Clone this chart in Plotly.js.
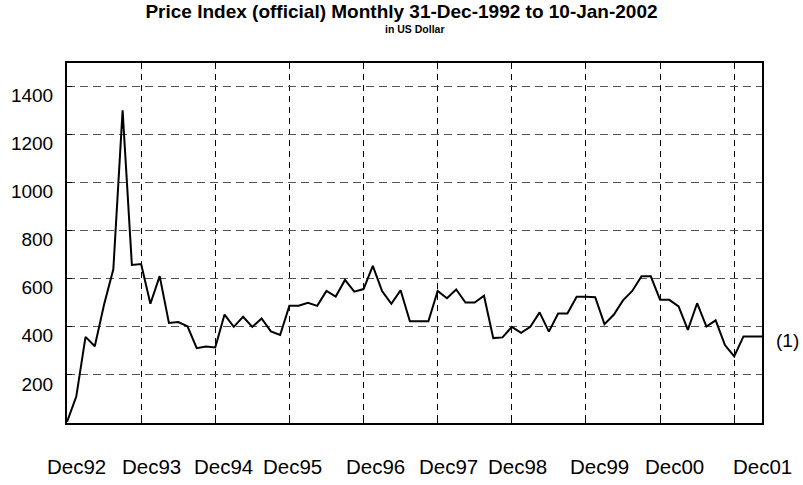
<!DOCTYPE html>
<html>
<head>
<meta charset="utf-8">
<script src="https://cdn.plot.ly/plotly-3.0.1.min.js"></script>
<style>
  html, body { margin: 0; padding: 0; background: #fff; }
  #chart { width: 803px; height: 485px; }
</style>
</head>
<body>
<div id="chart"></div>
<script>
// Observation index (one point per period)
const obsIndex = [
  0,1,2,3,4,5,6,7,8,9,10,11,12,13,14,15,16,17,18,19,
  20,21,22,23,24,25,26,27,28,29,30,31,32,33,34,35,36,37,38,39,
  40,41,42,43,44,45,46,47,48,49,50,51,52,53,54,55,56,57,58,59,
  60,61,62,63,64,65,66,67,68,69,70,71,72,73,74,75
];
// Price index values in US Dollar
const priceValues = [
  5,110,358,319,493,639,1300,657,661,496,611,416,420,402,311,318,314,451,400,442,
  400,435,381,366,488,488,500,487,549,526,595,546,557,653,549,496,552,423,423,423,
  549,519,555,501,501,529,353,356,400,375,400,460,380,455,455,525,525,523,411,450,
  510,549,610,610,512,512,485,387,498,401,427,324,277,360,360,360
];
// Vertical grid positions (every 8 observations)
const gridPositions = [0,8,16,24,32,40,48,56,64,72];
// Date tick labels and where they sit along the index axis
const dateLabels = ["Dec92","Dec93","Dec94","Dec95","Dec96","Dec97","Dec98","Dec99","Dec00","Dec01"];
const dateLabelPos = [1.0, 9.1, 16.9, 24.3, 33.3, 41.2, 48.6, 57.5, 65.6, 75.1];
// Y axis ticks
const yTickVals = [200,400,600,800,1000,1200,1400];
const yTickText = ["200","400","600","800","1000","1200","1400"];
const seriesTag = "(1)";

const X_RANGE = [0, 75];
const FONT = "Liberation Sans, Arial, sans-serif";

const trace = {
  type: "scatter",
  mode: "lines",
  x: obsIndex,
  y: priceValues,
  line: { color: "#000000", width: 2 },
  hoverinfo: "skip",
  showlegend: false
};

const annotations = dateLabels.map((t, i) => ({
  text: t,
  x: (dateLabelPos[i] - X_RANGE[0]) / (X_RANGE[1] - X_RANGE[0]),
  xref: "paper",
  y: 0,
  yref: "paper",
  yanchor: "middle",
  xanchor: "center",
  yshift: -43,
  showarrow: false,
  font: { family: FONT, size: 20.5, color: "#000" }
}));

annotations.push({
  text: seriesTag,
  x: 1, xref: "paper", xanchor: "left", xshift: 12,
  y: priceValues[priceValues.length - 1], yref: "y", yanchor: "middle", yshift: -4,
  showarrow: false,
  font: { family: FONT, size: 19, color: "#000" }
});

annotations.push({
  text: "<b>in US Dollar</b>",
  x: 0.5, xref: "paper", xanchor: "center",
  y: 1, yref: "paper", yanchor: "middle", yshift: 34,
  showarrow: false,
  font: { family: FONT, size: 10.5, color: "#000" }
});

const layout = {
  width: 803,
  height: 485,
  paper_bgcolor: "#ffffff",
  plot_bgcolor: "#ffffff",
  margin: { l: 67, r: 41, t: 63, b: 62 },
  title: {
    text: "<b>Price Index (official) Monthly 31-Dec-1992 to 10-Jan-2002</b>",
    font: { family: FONT, size: 19, color: "#000" },
    x: 0.5, xanchor: "center",
    y: 0.976, yanchor: "middle", yref: "container"
  },
  xaxis: {
    range: X_RANGE,
    tickmode: "array",
    tickvals: gridPositions,
    showticklabels: false,
    ticks: "inside",
    ticklen: 5,
    tickwidth: 1,
    tickcolor: "#000",
    showgrid: true,
    gridcolor: "#000000",
    gridwidth: 1,
    griddash: "6px,5px",
    showline: true,
    linecolor: "#000",
    linewidth: 2,
    mirror: true,
    zeroline: false,
    fixedrange: true
  },
  yaxis: {
    range: [0, 1497],
    tickmode: "array",
    tickvals: yTickVals,
    ticktext: yTickText,
    ticks: "inside",
    ticklen: 5,
    tickwidth: 1,
    tickcolor: "#000",
    ticklabelshift: 9,
    ticklabelstandoff: 8,
    tickfont: { family: FONT, size: 19, color: "#000" },
    showgrid: true,
    gridcolor: "#555555",
    gridwidth: 1,
    griddash: "8px,5px",
    showline: true,
    linecolor: "#000",
    linewidth: 2,
    mirror: true,
    zeroline: false,
    fixedrange: true
  },
  annotations: annotations,
  showlegend: false
};

Plotly.newPlot("chart", [trace], layout, { displayModeBar: false, staticPlot: true });
</script>
</body>
</html>
